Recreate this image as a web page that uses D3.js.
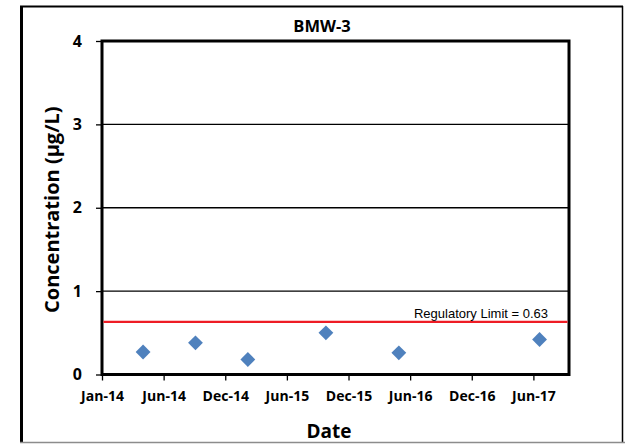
<!DOCTYPE html>
<html>
<head>
<meta charset="utf-8">
<script src="https://cdn.jsdelivr.net/npm/d3@7"></script>
<style>
  html, body { margin: 0; padding: 0; background: #fff; }
  svg { display: block; }
</style>
</head>
<body>
<svg id="chart" width="625" height="444"></svg>
<script>
// Sample dates and measured concentrations (µg/L) for well BMW-3
const sampleDates = ["2014-05-01", "2014-10-01", "2015-03-03", "2015-10-17", "2016-05-17", "2017-07-02"];
const concentrations = [0.27, 0.38, 0.18, 0.50, 0.26, 0.42];

const regulatoryLimit = 0.63;
const yTicks = [0, 1, 2, 3, 4];
const xTickLabels = ["Jan-14", "Jun-14", "Dec-14", "Jun-15", "Dec-15", "Jun-16", "Dec-16", "Jun-17"];

const chartTitle = "BMW-3";
const xTitle = "Date";
const yTitle = "Concentration (µg/L)";

const labelFont = "'Open Sans', Lato, sans-serif";
const noteFont = "'Liberation Sans', Arial, sans-serif";

const parse = d3.utcParse("%Y-%m-%d");
const points = sampleDates.map((d, i) => ({ date: parse(d), value: concentrations[i] }));

// Date axis: ticks every 180 days from the start of 2014
const xStart = parse("2014-01-01");
const xEnd = parse("2017-09-26");
const tickDates = xTickLabels.map((_, i) => d3.utcDay.offset(xStart, i * 180));

const svg = d3.select("#chart");
const plot = { left: 102, top: 41, right: 569, bottom: 374.5 };

const x = d3.scaleUtc().domain([xStart, xEnd]).range([plot.left, plot.right]);
const y = d3.scaleLinear().domain([0, 4]).range([plot.bottom, plot.top]);

// Outer chart frame
svg.append("line").attr("x1", 21.5).attr("x2", 21.5).attr("y1", 6).attr("y2", 442)
  .attr("stroke", "#000").attr("stroke-width", 3);
svg.append("line").attr("x1", 20).attr("x2", 623).attr("y1", 6.5).attr("y2", 6.5)
  .attr("stroke", "#000").attr("stroke-width", 2);
svg.append("line").attr("x1", 622.5).attr("x2", 622.5).attr("y1", 6).attr("y2", 442)
  .attr("stroke", "#000").attr("stroke-width", 1.5);
svg.append("line").attr("x1", 20).attr("x2", 625).attr("y1", 442.5).attr("y2", 442.5)
  .attr("stroke", "#8c8c8c").attr("stroke-width", 1.5);

// Horizontal gridlines
svg.append("g")
  .selectAll("line")
  .data(yTicks.filter(v => v > 0 && v < 4))
  .join("line")
  .attr("x1", plot.left).attr("x2", plot.right)
  .attr("y1", d => y(d)).attr("y2", d => y(d))
  .attr("stroke", "#000").attr("stroke-width", 1.3);

// Y axis ticks and labels
const yAxis = d3.axisLeft(y).tickValues(yTicks).tickSize(6).tickPadding(14).tickFormat(d3.format("d"));
svg.append("g")
  .attr("transform", `translate(${plot.left},0)`)
  .call(yAxis)
  .call(g => g.select(".domain").remove())
  .call(g => g.selectAll("line").attr("stroke", "#000").attr("stroke-width", 1.3))
  .call(g => g.selectAll("text")
    .style("font-family", labelFont)
    .style("font-size", "16px").style("font-weight", "bold").attr("fill", "#000"));

// X axis ticks and labels
const xAxis = d3.axisBottom(x).tickValues(tickDates).tickSize(6).tickPadding(11)
  .tickFormat((d, i) => xTickLabels[i]);
svg.append("g")
  .attr("transform", `translate(0,${plot.bottom})`)
  .call(xAxis)
  .call(g => g.select(".domain").remove())
  .call(g => g.selectAll("line").attr("stroke", "#000").attr("stroke-width", 1.3))
  .call(g => g.selectAll("text")
    .style("font-family", labelFont)
    .style("font-size", "14px").style("font-weight", "bold").attr("fill", "#000"));

// Plot area frame
svg.append("rect")
  .attr("x", plot.left).attr("y", plot.top)
  .attr("width", plot.right - plot.left).attr("height", plot.bottom - plot.top)
  .attr("fill", "none").attr("stroke", "#000").attr("stroke-width", 3);

// Regulatory limit line and its label
svg.append("line")
  .attr("x1", plot.left + 1.5).attr("x2", plot.right - 1.5)
  .attr("y1", y(regulatoryLimit)).attr("y2", y(regulatoryLimit))
  .attr("stroke", "#ee1c25").attr("stroke-width", 2.2);
svg.append("text")
  .attr("x", 548).attr("y", y(regulatoryLimit) - 4)
  .attr("text-anchor", "end")
  .style("font-family", noteFont)
  .style("font-size", "13px").attr("fill", "#000")
  .text(`Regulatory Limit = ${regulatoryLimit}`);

// Sample markers (diamonds)
svg.append("g")
  .selectAll("path")
  .data(points)
  .join("path")
  .attr("d", d3.symbol(d3.symbolSquare, 110)())
  .attr("transform", d => `translate(${x(d.date)},${y(d.value)}) rotate(45)`)
  .attr("fill", "#4f81bd");

// Titles
svg.append("text")
  .attr("x", 322).attr("y", 32)
  .attr("text-anchor", "middle")
  .style("font-family", labelFont)
  .style("font-size", "16.5px").style("font-weight", "bold")
  .text(chartTitle);

svg.append("text")
  .attr("x", 329).attr("y", 438)
  .attr("text-anchor", "middle")
  .style("font-family", labelFont)
  .style("font-size", "19px").style("font-weight", "bold")
  .text(xTitle);

svg.append("text")
  .attr("transform", `translate(59,${(plot.top + plot.bottom) / 2 + 2}) rotate(-90)`)
  .attr("text-anchor", "middle")
  .style("font-family", labelFont)
  .style("font-size", "20px").style("font-weight", "bold")
  .text(yTitle);
</script>
</body>
</html>
